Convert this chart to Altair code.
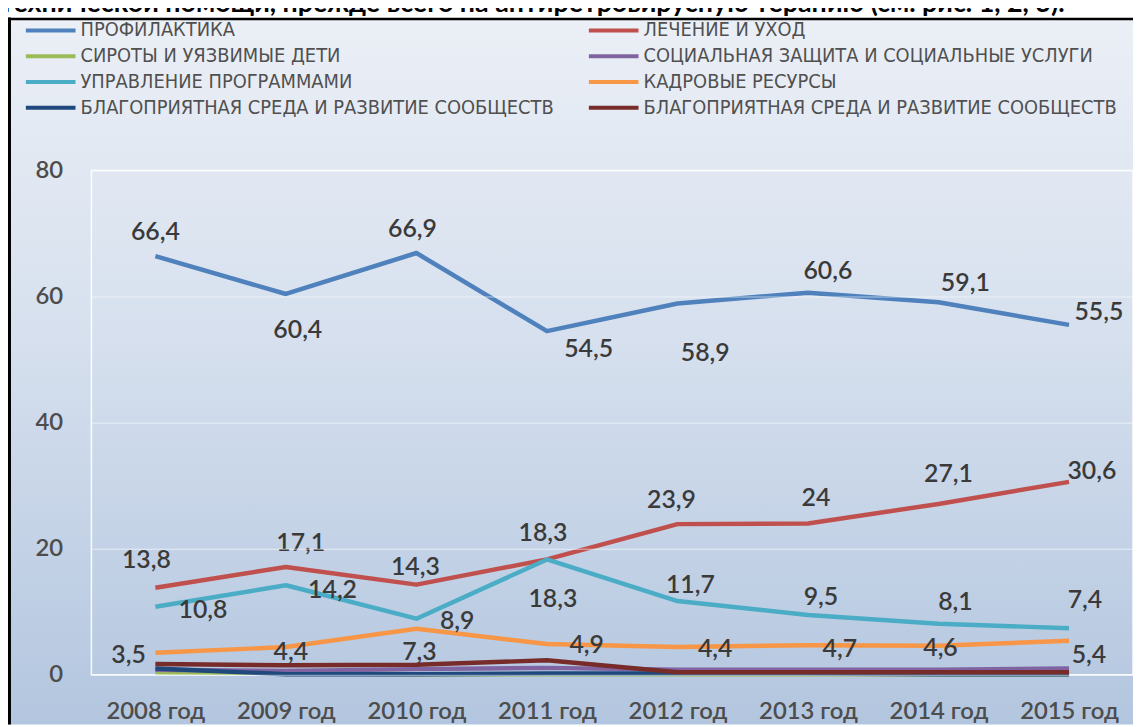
import altair as alt
import pandas as pd

years = ["2008 год", "2009 год", "2010 год", "2011 год",
         "2012 год", "2013 год", "2014 год", "2015 год"]

series_names = [
    "ПРОФИЛАКТИКА",
    "ЛЕЧЕНИЕ И УХОД",
    "СИРОТЫ И УЯЗВИМЫЕ ДЕТИ",
    "СОЦИАЛЬНАЯ ЗАЩИТА И СОЦИАЛЬНЫЕ УСЛУГИ",
    "УПРАВЛЕНИЕ ПРОГРАММАМИ",
    "КАДРОВЫЕ РЕСУРСЫ",
    "БЛАГОПРИЯТНАЯ СРЕДА И РАЗВИТИЕ СООБЩЕСТВ",
    "БЛАГОПРИЯТНАЯ СРЕДА И РАЗВИТИЕ СООБЩЕСТВ ",  # second series, same caption
]
series_colors = ["#4f81bd", "#c0504d", "#9bbb59", "#8064a2",
                 "#4bacc6", "#f79646", "#1f497d", "#772c2a"]

profilaktika = [66.4, 60.4, 66.9, 54.5, 58.9, 60.6, 59.1, 55.5]
lechenie = [13.8, 17.1, 14.3, 18.3, 23.9, 24.0, 27.1, 30.6]
siroty = [0.4, 0.3, 0.1, 0.1, 0.1, 0.1, 0.1, 0.1]
soc_zashchita = [0.8, 0.6, 0.9, 1.1, 0.8, 0.8, 0.8, 1.0]
upravlenie = [10.8, 14.2, 8.9, 18.3, 11.7, 9.5, 8.1, 7.4]
kadry = [3.5, 4.4, 7.3, 4.9, 4.4, 4.7, 4.6, 5.4]
sreda_1 = [1.0, 0.1, 0.1, 0.2, 0.2, 0.2, 0.1, 0.1]
sreda_2 = [1.7, 1.5, 1.6, 2.3, 0.4, 0.4, 0.4, 0.4]

all_series = [profilaktika, lechenie, siroty, soc_zashchita,
              upravlenie, kadry, sreda_1, sreda_2]

# legend is filled column by column: left column first, then right column
legend_order = [0, 2, 4, 6, 1, 3, 5, 7]

# which series carry data labels, and the label nudges (pixels) for each point
labelled = [0, 1, 4, 5]
label_dx = {
    0: [0, 12, -4, 42, 28, 20, 27, 30],
    1: [-9, 15, -1, -4, -6, 8, 10, 23],
    4: [48, 47, 41, 6, 13, 13, 17, 16],
    5: [-27, 5, 3, 40, 38, 32, 2, 20],
}
label_dy = {
    0: [-24, 36, -24, 18, 50, -22, -19, -13],
    1: [-28, -24, -18, -27, -24, -26, -30, -11],
    4: [3, 5, 2, 40, -16, -18, -22, -28],
    5: [2, 5, 23, 1, 2, 4, 2, 14],
}

rows = []
for si, (name, vals) in enumerate(zip(series_names, all_series)):
    for yi, (yr, v) in enumerate(zip(years, vals)):
        rows.append({"year": yr, "series": name, "order": si, "value": v})
df = pd.DataFrame(rows)

lab_rows = []
for si in labelled:
    for yi, yr in enumerate(years):
        lab_rows.append({"year": yr, "series": series_names[si],
                         "value": all_series[si][yi],
                         "dx": label_dx[si][yi], "dy": label_dy[si][yi]})
df_lab = pd.DataFrame(lab_rows)

one = pd.DataFrame({"k": [0]})

W, H = 1049, 508
LABEL_FONT = "Lato, 'Open Sans', sans-serif"
LEGEND_FONT = "'DejaVu Sans Condensed', 'Liberation Sans Narrow', 'DejaVu Sans', sans-serif"

x_enc = alt.X("year:N", sort=years, scale=alt.Scale(type="point", padding=0.49),
              axis=alt.Axis(title=None, labelAngle=0, labelFont=LABEL_FONT,
                            labelFontSize=24, labelColor="#4d4d4d",
                            labelFontWeight=600, labelPadding=25,
                            ticks=False, domain=False, grid=False, zindex=1))
y_enc = alt.Y("value:Q", scale=alt.Scale(domain=[0, 80], nice=False),
              axis=alt.Axis(title=None, values=[0, 20, 40, 60, 80],
                            labelFont=LABEL_FONT, labelFontSize=24,
                            labelColor="#4d4d4d", labelFontWeight=600,
                            labelPadding=29, ticks=False, domain=False,
                            grid=True, gridColor="#ffffff", gridOpacity=0.6,
                            gridWidth=1, zindex=1))

bg = alt.Chart(one).mark_rect(
    color=alt.Gradient(
        gradient="linear",
        stops=[alt.GradientStop(color="#ebeff6", offset=0),
               alt.GradientStop(color="#d6e0ee", offset=0.45),
               alt.GradientStop(color="#b3c6df", offset=1)],
        x1=0, x2=0, y1=0, y2=1),
).encode(x=alt.value(-84), x2=alt.value(W), y=alt.value(-152), y2=alt.value(558))

frame = alt.Chart(one).mark_rect(fillOpacity=0, stroke="#ffffff",
                                 strokeWidth=1.5, strokeOpacity=0.9).encode(
    x=alt.value(0), x2=alt.value("width"), y=alt.value(0), y2=alt.value("height"))

lines = alt.Chart(df).mark_line(strokeWidth=4.5, strokeJoin="round").encode(
    x=x_enc,
    y=y_enc,
    color=alt.Color("series:N",
                    scale=alt.Scale(domain=[series_names[i] for i in legend_order],
                                    range=[series_colors[i] for i in legend_order]),
                    legend=alt.Legend(orient="none", legendX=-53, legendY=-153,
                                      columns=2, columnPadding=27, rowPadding=4,
                                      symbolType="M-2.5,0H2.5", symbolSize=400,
                                      symbolStrokeWidth=4, labelFont=LEGEND_FONT,
                                      labelFontSize=20, labelColor="#505050",
                                      labelOffset=18, labelLimit=700, title=None)),
    order=alt.Order("order:Q"),
    detail="series:N",
)

labels = alt.Chart(df_lab).transform_calculate(
    txt="replace(toString(datum.value), '.', ',')"
).mark_text(font=LABEL_FONT, fontSize=25, fontWeight=600, color="#3a3a3a",
            align="center", baseline="middle",
            dx=alt.expr("datum.dx"), dy=alt.expr("datum.dy")).encode(
    x=alt.X("year:N", sort=years),
    y=alt.Y("value:Q"),
    text="txt:N",
)

left_border = alt.Chart(one).mark_rule(color="#000000", strokeWidth=3).encode(
    x=alt.value(-82.5), y=alt.value(-154), y2=alt.value(558))
top_border = alt.Chart(one).mark_rule(color="#000000", strokeWidth=2.5).encode(
    x=alt.value(-84), x2=alt.value(W), y=alt.value(-152.5))

top_text = alt.Chart(one).mark_text(
    text="технической помощи, прежде всего на антиретровирусную терапию (см. рис. 1, 2, 3).",
    align="left", baseline="alphabetic", font="Lato, sans-serif",
    fontSize=27, fontWeight="bold", color="#000000").encode(
    x=alt.value(-92), y=alt.value(-160))

chart = alt.layer(bg, frame, lines, labels, left_border, top_border, top_text).properties(
    width=W, height=H,
    padding={"left": 84, "top": 161, "right": 0, "bottom": 50},
    autosize=alt.AutoSizeParams(type="none"),
).configure_view(stroke=None).configure(background="#ffffff")

chart.save("out.html", embed_options={"renderer": "svg", "actions": False})
